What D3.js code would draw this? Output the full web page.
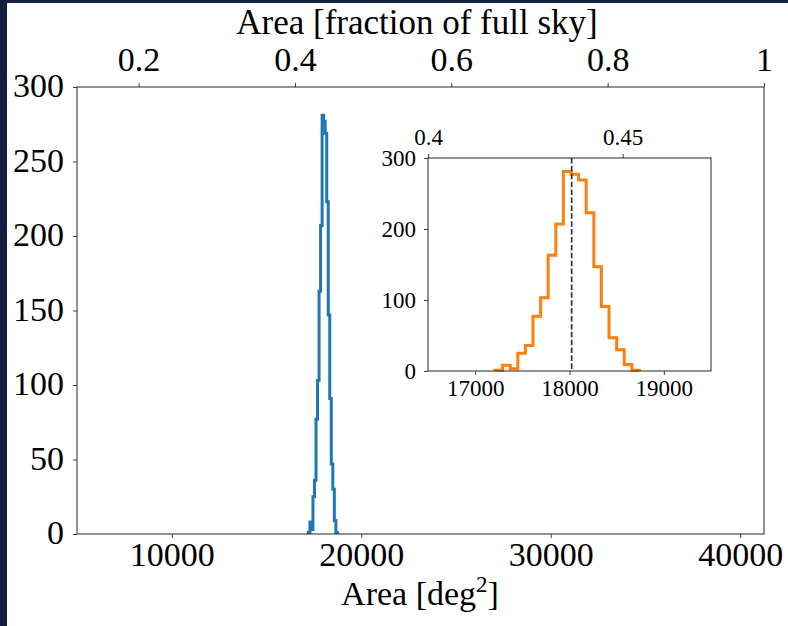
<!DOCTYPE html>
<html>
<head>
<meta charset="utf-8">
<script src="https://cdn.jsdelivr.net/npm/d3@7"></script>
<style>
  html, body { margin: 0; padding: 0; background: #141e3e; }
  svg { display: block; }
  text { font-family: "Liberation Serif", "Times New Roman", serif; fill: #000; }
</style>
</head>
<body>
<svg id="chart" width="788" height="626"></svg>
<script>
// Histogram of sampled sky areas (deg^2): bin edges and counts
const binEdges = [17210, 17291, 17371, 17452, 17532, 17613, 17694, 17774, 17855, 17935,
                  18016, 18097, 18177, 18258, 18338, 18419, 18500, 18580, 18661, 18741];
const binCounts = [1, 8, 3, 25, 36, 77, 103, 163, 207, 281,
                   277, 269, 223, 147, 91, 47, 30, 9, 1];
const meanArea = 18023;
const fullSky = 41253;

// Tick values
const mainXTicks = [10000, 20000, 30000, 40000];
const mainYTicks = [0, 50, 100, 150, 200, 250, 300];
const mainFracTicks = [0.2, 0.4, 0.6, 0.8, 1];
const insetXTicks = [17000, 18000, 19000];
const insetYTicks = [0, 100, 200, 300];
const insetFracTicks = [0.4, 0.45];

const svg = d3.select("#chart");
// white canvas inside the dark frame
svg.append("rect").attr("x", 7).attr("y", 3).attr("width", 781).attr("height", 623).attr("fill", "#fff");

const spineColor = "#262626";

function histPoints(edges, counts) {
  const pts = [[edges[0], 0]];
  counts.forEach((c, i) => { pts.push([edges[i], c]); pts.push([edges[i + 1], c]); });
  pts.push([edges[edges.length - 1], 0]);
  return pts;
}

function drawPanel(cfg) {
  const g = svg.append("g");
  const x = d3.scaleLinear().domain(cfg.xDomain).range([cfg.left, cfg.right]);
  const y = d3.scaleLinear().domain(cfg.yDomain).range([cfg.bottom, cfg.top]);
  const xf = d3.scaleLinear().domain([cfg.xDomain[0] / fullSky, cfg.xDomain[1] / fullSky]).range([cfg.left, cfg.right]);

  // histogram outline
  const line = d3.line().x(d => x(d[0])).y(d => y(d[1]));
  g.append("path")
    .attr("d", line(histPoints(binEdges, binCounts)))
    .attr("fill", "none")
    .attr("stroke", cfg.color)
    .attr("stroke-width", 3)
    .attr("stroke-linejoin", "miter");

  if (cfg.showMean) {
    g.append("line")
      .attr("x1", x(meanArea)).attr("x2", x(meanArea))
      .attr("y1", cfg.top).attr("y2", cfg.bottom)
      .attr("stroke", "#333").attr("stroke-width", 1.7)
      .attr("stroke-dasharray", "5.5,2.4");
  }

  const fs = cfg.fontSize;
  // bottom axis
  const gb = g.append("g").attr("transform", `translate(0,${cfg.bottom})`)
    .call(d3.axisBottom(x).tickValues(cfg.xTicks).tickSize(cfg.tick).tickSizeOuter(0).tickFormat(d3.format("d")));
  // left axis
  const gl = g.append("g").attr("transform", `translate(${cfg.left},0)`)
    .call(d3.axisLeft(y).tickValues(cfg.yTicks).tickSize(cfg.tick).tickSizeOuter(0).tickFormat(d3.format("d")));
  // top axis: fraction of full sky
  const gt = g.append("g").attr("transform", `translate(0,${cfg.top})`)
    .call(d3.axisTop(xf).tickValues(cfg.fracTicks).tickSize(cfg.tick).tickSizeOuter(0).tickFormat(d => String(d)));

  [gb, gl, gt].forEach(a => {
    a.select(".domain").remove();
    a.selectAll(".tick line").attr("stroke", spineColor).attr("stroke-width", 0.9);
    a.selectAll("text").attr("font-size", fs).attr("font-family", null).attr("fill", "#000");
  });
  gb.selectAll("text").attr("y", cfg.bottomLabelY - cfg.bottom).attr("dy", null);
  gt.selectAll("text").attr("y", cfg.topLabelY - cfg.top).attr("dy", null);
  gl.selectAll("text").attr("x", cfg.leftLabelX - cfg.left).attr("dy", cfg.leftDy);

  // spines
  g.append("rect")
    .attr("x", cfg.left).attr("y", cfg.top)
    .attr("width", cfg.right - cfg.left).attr("height", cfg.bottom - cfg.top)
    .attr("fill", "none").attr("stroke", spineColor).attr("stroke-width", 1);
  return g;
}

// main panel
drawPanel({
  left: 77, right: 764, top: 87, bottom: 534,
  xDomain: [5000, fullSky], yDomain: [0, 300],
  xTicks: mainXTicks, yTicks: mainYTicks, fracTicks: mainFracTicks,
  color: "#1f77b4", fontSize: 34, tick: 4,
  bottomLabelY: 566, topLabelY: 71, leftLabelX: 64, leftDy: "0.28em",
  showMean: false
});

// inset panel
svg.append("rect").attr("x", 428).attr("y", 158).attr("width", 283).attr("height", 213).attr("fill", "#fff");
drawPanel({
  left: 428, right: 711, top: 158, bottom: 371,
  xDomain: [16500, 19500], yDomain: [0, 300],
  xTicks: insetXTicks, yTicks: insetYTicks, fracTicks: insetFracTicks,
  color: "#ff7f0e", fontSize: 23, tick: 4,
  bottomLabelY: 396, topLabelY: 145, leftLabelX: 416, leftDy: "0.33em",
  showMean: true
});

// axis titles
svg.append("text")
  .attr("x", 417).attr("y", 33.5).attr("text-anchor", "middle").attr("font-size", 35)
  .text("Area [fraction of full sky]");

const xl = svg.append("text")
  .attr("x", 420).attr("y", 605).attr("text-anchor", "middle").attr("font-size", 34);
xl.append("tspan").text("Area [deg");
xl.append("tspan").attr("font-size", 23).attr("dy", -13).text("2");
xl.append("tspan").attr("dy", 13).text("]");
</script>
</body>
</html>
